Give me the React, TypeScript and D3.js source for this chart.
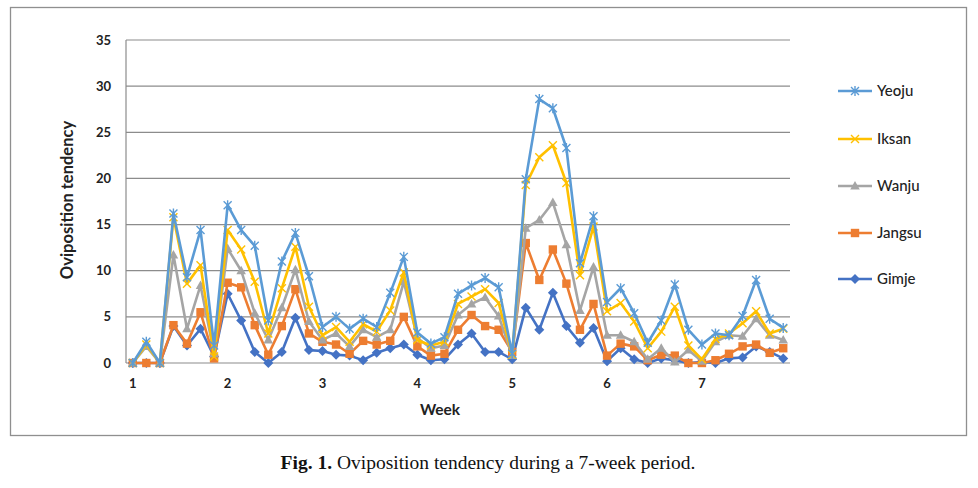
import React, { useRef, useEffect } from 'react';
import * as d3 from 'd3';

// 7 weeks x 7 observations
const weekLabels = ['1', '2', '3', '4', '5', '6', '7'];
const days = d3.range(49);

const yeoju = [0, 2.3, 0, 16.2, 9.3, 14.4, 1.9, 17.1, 14.4, 12.7, 4.6, 11.0, 14.1, 9.4, 3.9, 5.0, 3.7, 4.8, 3.9, 7.6, 11.5, 3.3, 2.1, 2.8, 7.5, 8.4, 9.2, 8.2, 1.0, 19.9, 28.6, 27.6, 23.3, 10.8, 15.9, 6.6, 8.1, 5.4, 2.2, 4.6, 8.5, 3.6, 2.0, 3.2, 3.0, 5.1, 9.0, 4.8, 3.8];
const iksan = [0, 2.0, 0, 15.8, 8.6, 10.6, 0.7, 14.4, 12.3, 8.8, 3.2, 8.1, 12.6, 6.1, 3.0, 3.9, 2.3, 4.2, 3.4, 5.7, 9.8, 2.5, 1.9, 2.3, 6.4, 7.2, 8.0, 6.5, 0.9, 19.3, 22.3, 23.6, 19.5, 9.5, 14.8, 5.6, 6.5, 4.5, 1.6, 3.4, 6.1, 1.9, 0.4, 2.6, 3.2, 4.3, 5.6, 3.2, 3.7];
const wanju = [0, 1.8, 0, 11.7, 3.7, 8.4, 1.0, 12.4, 10.0, 5.4, 2.5, 6.0, 10.1, 4.5, 2.5, 3.2, 1.8, 3.6, 2.8, 3.6, 8.8, 2.7, 1.6, 1.9, 5.2, 6.4, 7.1, 5.1, 0.8, 14.6, 15.5, 17.4, 12.8, 5.7, 10.4, 3.0, 3.0, 2.3, 0.4, 1.6, 0.1, 1.4, 0.2, 2.3, 3.0, 2.9, 4.8, 3.0, 2.5];
const jangsu = [0, 0, 0, 4.1, 2.1, 5.5, 0.5, 8.7, 8.2, 4.1, 0.9, 4.0, 8.0, 3.2, 2.3, 2.0, 1.0, 2.4, 2.0, 2.4, 5.0, 1.8, 0.8, 1.0, 3.6, 5.2, 4.0, 3.6, 1.2, 13.0, 9.0, 12.3, 8.6, 3.6, 6.4, 0.8, 2.1, 1.8, 0.3, 0.9, 0.8, 0, 0, 0.3, 1.0, 1.8, 2.0, 1.1, 1.6];
const gimje = [0, 0, 0, 4.0, 1.9, 3.7, 0.7, 7.5, 4.6, 1.2, 0, 1.2, 4.9, 1.4, 1.3, 0.9, 0.8, 0.3, 1.1, 1.6, 2.0, 0.9, 0.3, 0.4, 2.0, 3.2, 1.2, 1.2, 0.4, 6.0, 3.6, 7.6, 4.0, 2.2, 3.8, 0.2, 1.6, 0.4, 0, 0.5, 0.3, 0, 0.1, 0, 0.5, 0.6, 1.8, 1.2, 0.5];

const yTicks = [0, 5, 10, 15, 20, 25, 30, 35];

type Marker = 'star' | 'x' | 'triangle' | 'square' | 'diamond';
const seriesList: { name: string; values: number[]; color: string; marker: Marker }[] = [
  { name: 'Yeoju', values: yeoju, color: '#5B9BD5', marker: 'star' },
  { name: 'Iksan', values: iksan, color: '#FFC000', marker: 'x' },
  { name: 'Wanju', values: wanju, color: '#A5A5A5', marker: 'triangle' },
  { name: 'Jangsu', values: jangsu, color: '#ED7D31', marker: 'square' },
  { name: 'Gimje', values: gimje, color: '#4472C4', marker: 'diamond' },
];

const W = 978;
const H = 488;
const margin = { left: 126, right: 188, top: 40, bottom: 125 };
const font = 'Lato, "Open Sans", sans-serif';

function drawMarker(g: any, m: Marker, color: string) {
  if (m === 'star') {
    g.append('path').attr('d', 'M-4,-4L4,4M-4,4L4,-4M0,-5L0,5').attr('stroke', color).attr('stroke-width', 1.4).attr('fill', 'none');
  } else if (m === 'x') {
    g.append('path').attr('d', 'M-4,-4L4,4M-4,4L4,-4').attr('stroke', color).attr('stroke-width', 1.4).attr('fill', 'none');
  } else if (m === 'triangle') {
    g.append('path').attr('d', 'M0,-5L4.8,3.5L-4.8,3.5Z').attr('fill', color);
  } else if (m === 'square') {
    g.append('rect').attr('x', -4.2).attr('y', -4.2).attr('width', 8.4).attr('height', 8.4).attr('fill', color);
  } else {
    g.append('path').attr('d', 'M0,-5L5,0L0,5L-5,0Z').attr('fill', color);
  }
}

export default function App() {
  const svgRef = useRef<SVGSVGElement>(null);

  useEffect(() => {
    if (!svgRef.current) return;
    const svg = d3.select(svgRef.current);
    svg.selectAll('*').remove();

    const x = d3.scalePoint<number>().domain(days).range([margin.left, W - margin.right]).padding(0.5);
    const y = d3.scaleLinear().domain([0, 35]).range([H - margin.bottom, margin.top]);

    // outer frame
    svg.append('rect')
      .attr('x', 10.5).attr('y', 7.5)
      .attr('width', 956).attr('height', 428)
      .attr('fill', '#fff').attr('stroke', '#8f8f8f').attr('stroke-width', 1.3);

    // gridlines
    svg.append('g')
      .selectAll('line')
      .data(yTicks)
      .enter()
      .append('line')
      .attr('x1', margin.left).attr('x2', W - margin.right)
      .attr('y1', d => y(d)).attr('y2', d => y(d))
      .attr('stroke', '#8c8c8c').attr('stroke-width', 1.2);

    // y axis line
    svg.append('line')
      .attr('x1', margin.left).attr('x2', margin.left)
      .attr('y1', y(35)).attr('y2', y(0))
      .attr('stroke', '#8c8c8c').attr('stroke-width', 1.2);

    // y tick labels
    svg.append('g')
      .selectAll('text')
      .data(yTicks)
      .enter()
      .append('text')
      .attr('x', 111)
      .attr('y', d => y(d) + 4.5)
      .attr('text-anchor', 'end')
      .style('font-family', font)
      .style('font-weight', 'bold')
      .style('font-size', '13px')
      .attr('fill', '#222')
      .text(d => String(d));

    // x tick labels, one per week
    svg.append('g')
      .selectAll('text')
      .data(weekLabels)
      .enter()
      .append('text')
      .attr('x', (d, i) => x(i * 7) as number)
      .attr('y', 388)
      .attr('text-anchor', 'middle')
      .style('font-family', font)
      .style('font-weight', 'bold')
      .style('font-size', '13px')
      .attr('fill', '#222')
      .text(d => d);

    // axis titles
    svg.append('text')
      .attr('x', 440).attr('y', 415)
      .attr('text-anchor', 'middle')
      .style('font-family', font)
      .style('font-weight', 'bold')
      .style('font-size', '15.5px')
      .attr('fill', '#222')
      .text('Week');

    svg.append('text')
      .attr('transform', 'translate(73,200) rotate(-90)')
      .attr('text-anchor', 'middle')
      .style('font-family', font)
      .style('font-weight', 'bold')
      .style('font-size', '16.5px')
      .attr('fill', '#222')
      .text('Oviposition tendency');

    // series lines: Gimje drawn first, Yeoju on top
    const line = d3.line<number>()
      .x((d, i) => x(i) as number)
      .y(d => y(d));

    const drawOrder = [...seriesList].reverse();
    drawOrder.forEach(s => {
      const g = svg.append('g');
      g.append('path')
        .datum(s.values)
        .attr('d', line)
        .attr('fill', 'none')
        .attr('stroke', s.color)
        .attr('stroke-width', 2.6)
        .attr('stroke-linejoin', 'round');
      s.values.forEach((v, i) => {
        const mg = g.append('g').attr('transform', `translate(${x(i)},${y(v)})`);
        drawMarker(mg, s.marker, s.color);
      });
    });

    // legend
    const legendY = [91, 139, 186, 233, 279];
    seriesList.forEach((s, i) => {
      const lg = svg.append('g').attr('transform', `translate(838,${legendY[i]})`);
      lg.append('line')
        .attr('x1', 0).attr('x2', 34)
        .attr('stroke', s.color).attr('stroke-width', 2.6);
      const mg = lg.append('g').attr('transform', 'translate(17,0)');
      drawMarker(mg, s.marker, s.color);
      lg.append('text')
        .attr('x', 39).attr('y', 5)
        .style('font-family', font)
        .style('font-size', '15px')
        .style('font-weight', '500')
        .attr('fill', '#222')
        .text(s.name);
    });

    // caption
    const cap = svg.append('text')
      .attr('x', 488).attr('y', 469)
      .attr('text-anchor', 'middle')
      .style('font-family', '"Liberation Serif", "DejaVu Serif", serif')
      .style('font-size', '19.5px')
      .attr('fill', '#111');
    cap.append('tspan').style('font-weight', 'bold').text('Fig. 1.');
    cap.append('tspan').text(' Oviposition tendency during a 7-week period.');
  }, []);

  return (
    <svg
      ref={svgRef}
      width={W}
      height={H}
      style={{ position: 'absolute', left: 0, top: 0, background: '#fff' }}
    />
  );
}
